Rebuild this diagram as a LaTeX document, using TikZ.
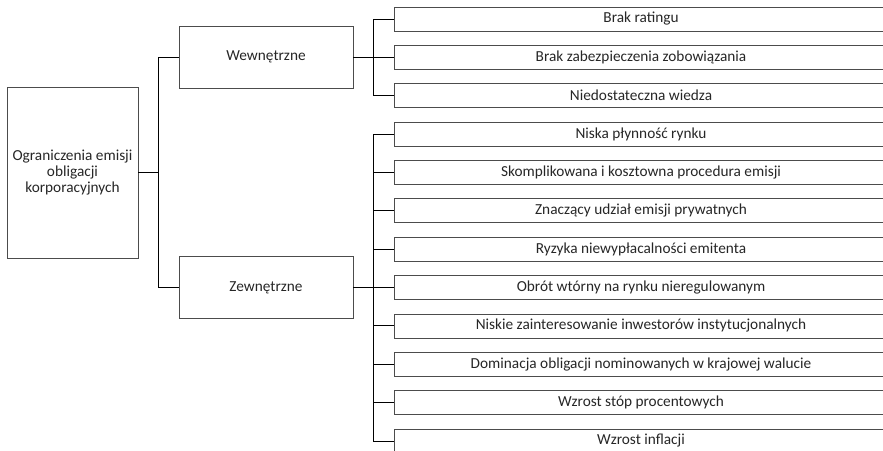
\documentclass[tikz,border=0pt]{standalone}
\usepackage{fontspec}
\setmainfont{Carlito}
\usetikzlibrary{positioning}

\begin{document}
\begin{tikzpicture}[x=1pt,y=-1pt,
  box/.style={draw=black!70,line width=0.8pt,rectangle,inner sep=0pt,
    font=\fontsize{15.3}{16}\selectfont,text=black!85},
  leafbox/.style={box,minimum width=494pt,minimum height=24pt},
  midbox/.style={box,minimum width=174pt,minimum height=62pt},
  link/.style={draw=black,line width=0.9pt}]

\useasboundingbox (0,0) rectangle (883,450);
\clip (0,0) rectangle (883,450);

\node [box,minimum width=131pt,minimum height=171pt,align=center] (root) at (72.5,172.5)
  {Ograniczenia emisji\\obligacji\\korporacyjnych};

\node [midbox] (wew) at (266,57) {Wewnętrzne};
\node [midbox] (zew) at (266,287.5) {Zewnętrzne};

% czynniki wewnetrzne
\node [leafbox] (w1) at (641,19) {Brak ratingu};
\node [leafbox] (w2) at (641,57.4) {Brak zabezpieczenia zobowiązania};
\node [leafbox] (w3) at (641,95.7) {Niedostateczna wiedza};

% czynniki zewnetrzne
\node [leafbox] (z1) at (641,134.1) {Niska płynność rynku};
\node [leafbox] (z2) at (641,172.4) {Skomplikowana i kosztowna procedura emisji};
\node [leafbox] (z3) at (641,210.8) {Znaczący udział emisji prywatnych};
\node [leafbox] (z4) at (641,249.2) {Ryzyka niewypłacalności emitenta};
\node [leafbox] (z5) at (641,287.5) {Obrót wtórny na rynku nieregulowanym};
\node [leafbox] (z6) at (641,325.9) {Niskie zainteresowanie inwestorów instytucjonalnych};
\node [leafbox] (z7) at (641,364.2) {Dominacja obligacji nominowanych w krajowej walucie};
\node [leafbox] (z8) at (641,402.6) {Wzrost stóp procentowych};
\node [leafbox] (z9) at (641,441) {Wzrost inflacji};

\draw [link] (root.east) -- ++(20,0) coordinate (rj);
\draw [link] (rj) |- (wew.west);
\draw [link] (rj) |- (zew.west);

\draw [link] (wew.east) -- ++(20,0) coordinate (wj);
\draw [link] (wj) |- (w1.west);
\draw [link] (wj) |- (w2.west);
\draw [link] (wj) |- (w3.west);

\draw [link] (zew.east) -- ++(20,0) coordinate (zj);
\draw [link] (zj) |- (z1.west);
\draw [link] (zj) |- (z2.west);
\draw [link] (zj) |- (z3.west);
\draw [link] (zj) |- (z4.west);
\draw [link] (zj) |- (z5.west);
\draw [link] (zj) |- (z6.west);
\draw [link] (zj) |- (z7.west);
\draw [link] (zj) |- (z8.west);
\draw [link] (zj) |- (z9.west);

\end{tikzpicture}
\end{document}
